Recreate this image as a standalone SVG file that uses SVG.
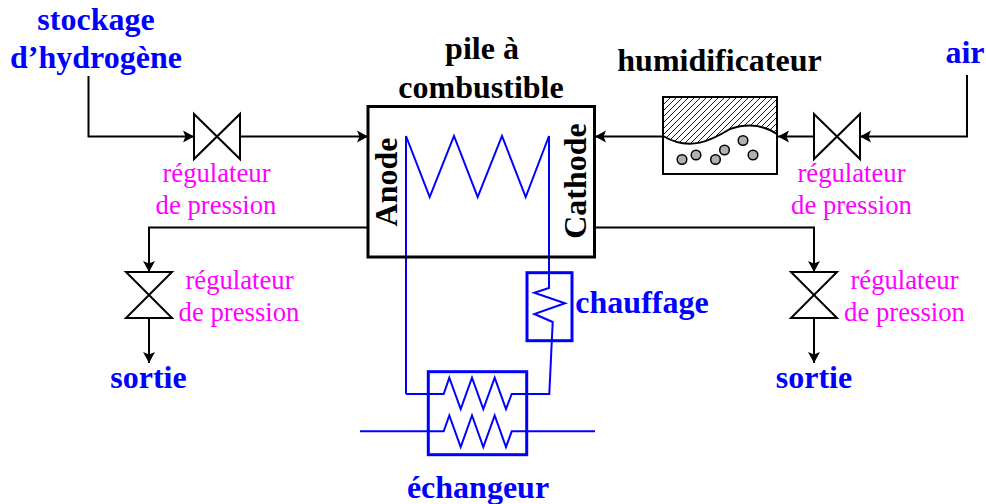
<svg xmlns="http://www.w3.org/2000/svg" width="986" height="504" viewBox="0 0 986 504">
<style>
text{font-family:"Liberation Serif","Times New Roman",serif}
.t{font-size:32px;font-weight:bold;fill:#00f;text-anchor:middle}
.k{font-size:32px;font-weight:bold;fill:#000;text-anchor:middle}
.m{font-size:26.700px;fill:#f0f;text-anchor:middle}
.l{fill:none;stroke:#000;stroke-width:2}
.b{fill:none;stroke:#00f;stroke-width:2}
.v{fill:#fff;stroke:#000;stroke-width:2}
</style>
<defs>
<marker id="a" markerUnits="userSpaceOnUse" markerWidth="14" markerHeight="14" refX="11" refY="7" orient="auto"><path d="M0,1 L11,7 L0,13 L2.500,7 Z" fill="#000"/></marker>
<pattern id="h" patternUnits="userSpaceOnUse" width="6" height="6"><path d="M-1,7 L7,-1 M-1,1 L1,-1 M5,7 L7,5" stroke="#000" stroke-width="0.900"/></pattern>
</defs>
<g id="connectors">
<path class="l" marker-end="url(#a)" d="M88.500,76 V136.500 H194"/>
<path class="l" marker-end="url(#a)" d="M240,136.500 H368"/>
<path class="l" marker-end="url(#a)" d="M368,227.500 H149 V272"/>
<path class="l" marker-end="url(#a)" d="M149,318 V363"/>
<path class="l" marker-end="url(#a)" d="M663,136.500 H595"/>
<path class="l" marker-end="url(#a)" d="M814,136.500 H778"/>
<path class="l" marker-end="url(#a)" d="M967,75 V136.500 H860"/>
<path class="l" marker-end="url(#a)" d="M595,227.500 H814 V272"/>
<path class="l" marker-end="url(#a)" d="M814,318 V363"/>
<path class="b" d="M406,394 V136 L429.700,197 L454,136 L477.700,197 L502,136 L525.700,197 L549,136 V288 L534.300,292.700 L565,303.300 L534.300,314 L552.700,322 L549.300,394 H511.700 L506,409 L494.700,377.700 L483.300,409 L472,377.700 L460.700,409 L449.300,377.700 L443.700,394 H406"/>
<path class="b" d="M360,431.300 H443.700 L449.300,415.500 L460.700,447 L472,415.500 L483.300,447 L494.700,415.500 L506,447 L511.700,431.300 H595"/>
</g>
<g id="pile"><rect x="368" y="106.500" width="226.500" height="150.500" fill="none" stroke="#000" stroke-width="3"/>
<text class="k" x="482" y="59">pile à</text><text class="k" x="481" y="98">combustible</text>
<text class="k" transform="translate(397,182) rotate(-90)">Anode</text>
<text class="k" transform="translate(586,181) rotate(-90)">Cathode</text></g>
<g id="stockage"><text class="t" x="96" y="30">stockage</text><text class="t" x="96" y="68">d’hydrogène</text></g>
<g id="valve-h2"><path class="v" d="M194,114 L240,159 V114 L194,159 Z"/><text class="m" x="216.500" y="182">régulateur</text><text class="m" x="216" y="214">de pression</text></g>
<g id="valve-air"><path class="v" d="M814,114 L860,159 V114 L814,159 Z"/><text class="m" x="851.500" y="182">régulateur</text><text class="m" x="851.500" y="214">de pression</text></g>
<g id="valve-anode"><path class="v" d="M126,272 H172 L126,318 H172 Z"/><text class="m" x="239.500" y="289">régulateur</text><text class="m" x="239" y="321">de pression</text></g>
<g id="valve-cathode"><path class="v" d="M791,272 H837 L791,318 H837 Z"/><text class="m" x="904.500" y="289">régulateur</text><text class="m" x="904.500" y="321">de pression</text></g>
<g id="sortie-a"><text class="t" x="148.500" y="388">sortie</text></g>
<g id="sortie-c"><text class="t" x="814" y="388">sortie</text></g>
<g id="humidificateur">
<rect x="663" y="97" width="114" height="77" fill="#fff" stroke="#000" stroke-width="2"/>
<path d="M663,136 V97 H777 V134 C762,124 745,124 730,129 C712,140 690,152 663,136 Z" fill="url(#h)"/>
<path d="M663,136 C690,152 712,140 730,129 C745,124 762,124 777,134" fill="none" stroke="#000" stroke-width="2"/>
<g fill="#b0b0b0" stroke="#000" stroke-width="1.500"><circle cx="682" cy="159.500" r="4.800"/><circle cx="696" cy="155" r="4.800"/><circle cx="715.500" cy="159.500" r="4.800"/><circle cx="724.500" cy="150" r="4.800"/><circle cx="743" cy="140.500" r="4.800"/><circle cx="753" cy="155" r="4.800"/></g>
<text class="k" x="719.500" y="71">humidificateur</text></g>
<g id="air"><text class="t" x="965" y="63">air</text></g>
<g id="chauffage"><rect x="527" y="272.700" width="45" height="68" fill="none" stroke="#00f" stroke-width="3"/><text class="t" x="642" y="313">chauffage</text></g>
<g id="echangeur"><rect x="428.300" y="371.700" width="98.400" height="83" fill="none" stroke="#00f" stroke-width="3"/><text class="t" x="478" y="498">échangeur</text></g>
</svg>
